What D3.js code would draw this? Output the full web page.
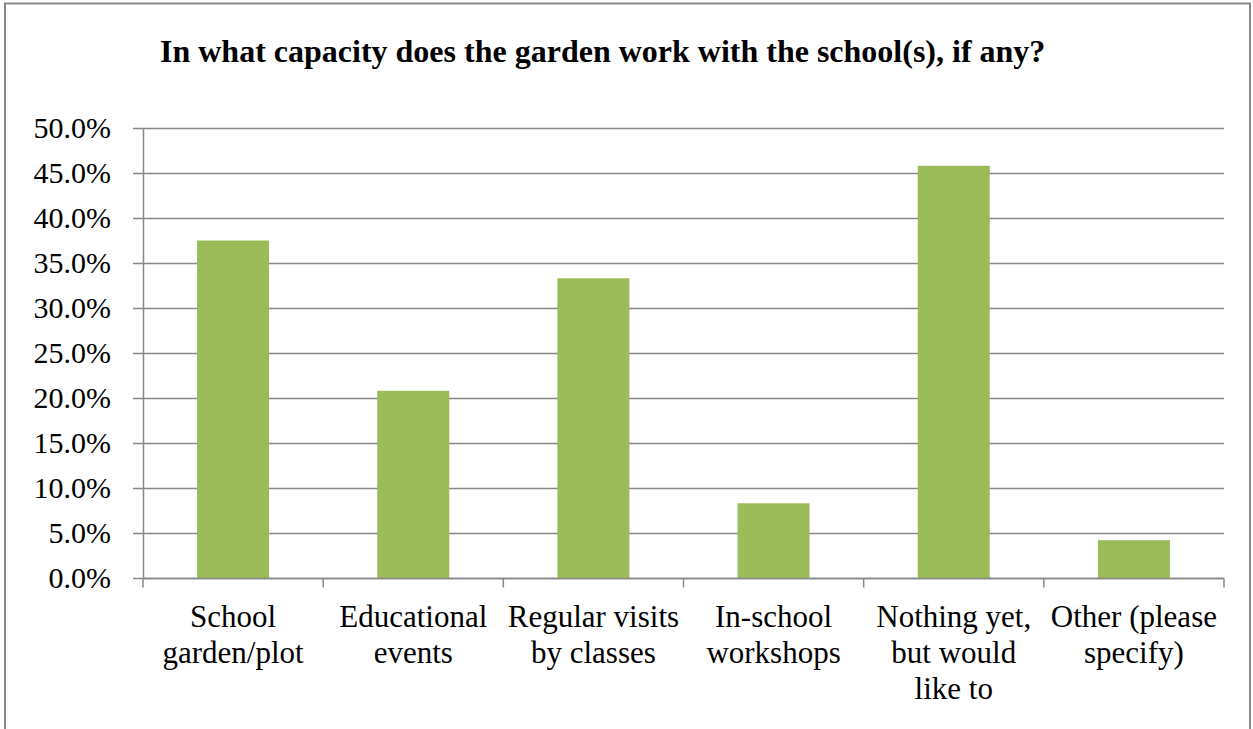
<!DOCTYPE html>
<html>
<head>
<meta charset="utf-8">
<script src="https://cdn.jsdelivr.net/npm/d3@7"></script>
<style>
  body { margin: 0; background: #fff; }
  svg { display: block; }
  text { font-family: "Liberation Serif", "Times New Roman", Tinos, "DejaVu Serif", serif; fill: #000; }
</style>
</head>
<body>
<div class="chart-container"></div>
<script>
// Data
const categories = [
    ['School', 'garden/plot'],
    ['Educational', 'events'],
    ['Regular visits', 'by classes'],
    ['In-school', 'workshops'],
    ['Nothing yet,', 'but would', 'like to'],
    ['Other (please', 'specify)']
];
const values = [37.5, 20.8, 33.3, 8.3, 45.8, 4.2];
const yTicks = [0, 5, 10, 15, 20, 25, 30, 35, 40, 45, 50];
const title = 'In what capacity does the garden work with the school(s), if any?';

const svg = d3.select('.chart-container')
    .append('svg')
    .attr('width', 1253)
    .attr('height', 729);

const area = {left: 143, right: 1224, top: 128, bottom: 578};

// Outer frame
svg.append('rect')
    .attr('x', 5)
    .attr('y', 3.5)
    .attr('width', 1245)
    .attr('height', 760)
    .attr('fill', 'none')
    .attr('stroke', '#888')
    .attr('stroke-width', 2);

svg.append('text')
    .attr('x', 160)
    .attr('y', 62)
    .style('font-size', '32px')
    .style('font-weight', 'bold')
    .text(title);

// Scales
const xScale = d3.scaleBand()
    .domain(d3.range(categories.length))
    .range([area.left, area.right])
    .paddingInner(0)
    .paddingOuter(0);

const yScale = d3.scaleLinear()
    .domain([0, 50])
    .range([area.bottom, area.top]);

// Gridlines
svg.append('g')
    .selectAll('line')
    .data(yTicks)
    .enter()
    .append('line')
    .attr('x1', area.left - 10)
    .attr('x2', area.right)
    .attr('y1', d => Math.round(yScale(d)) + 0.5)
    .attr('y2', d => Math.round(yScale(d)) + 0.5)
    .attr('stroke', '#888')
    .attr('stroke-width', 1.5);

// Bars
const barWidth = 72;
svg.append('g')
    .selectAll('.bar')
    .data(values)
    .enter()
    .append('rect')
    .attr('class', 'bar')
    .attr('x', (d, i) => xScale(i) + xScale.bandwidth() / 2 - barWidth / 2)
    .attr('y', d => yScale(d))
    .attr('width', barWidth)
    .attr('height', d => yScale(0) - yScale(d))
    .attr('fill', '#9BBB59');

// Y axis
const axisY = d3.axisLeft(yScale)
    .tickValues(yTicks)
    .tickSize(0)
    .tickPadding(32)
    .tickFormat(d => d.toFixed(1) + '%');

const gy = svg.append('g')
    .attr('transform', `translate(${area.left}, 0)`)
    .call(axisY);
gy.attr('font-family', null).attr('font-size', null);
gy.select('.domain').attr('stroke', '#888').attr('stroke-width', 1.5);
gy.selectAll('text')
    .style('font-size', '30px')
    .attr('fill', '#000');

// X axis
const gx = svg.append('g')
    .attr('transform', `translate(0, ${Math.round(area.bottom) + 0.5})`);
gx.append('line')
    .attr('x1', area.left)
    .attr('x2', area.right)
    .attr('stroke', '#888')
    .attr('stroke-width', 1.5);
const boundaries = d3.range(categories.length + 1).map(i =>
    i < categories.length ? xScale(i) : area.right);
gx.selectAll('.tick')
    .data(boundaries)
    .enter()
    .append('line')
    .attr('x1', d => d)
    .attr('x2', d => d)
    .attr('y1', 0)
    .attr('y2', 9)
    .attr('stroke', '#888')
    .attr('stroke-width', 1.5);

const labels = svg.append('g')
    .selectAll('text')
    .data(categories)
    .enter()
    .append('text')
    .attr('text-anchor', 'middle')
    .style('font-size', '31px')
    .attr('x', (d, i) => xScale(i) + xScale.bandwidth() / 2)
    .attr('y', 627);

labels.selectAll('tspan')
    .data(d => d)
    .enter()
    .append('tspan')
    .attr('x', function() { return d3.select(this.parentNode).attr('x'); })
    .attr('dy', (d, i) => i === 0 ? 0 : 36)
    .text(d => d);
</script>
</body>
</html>
